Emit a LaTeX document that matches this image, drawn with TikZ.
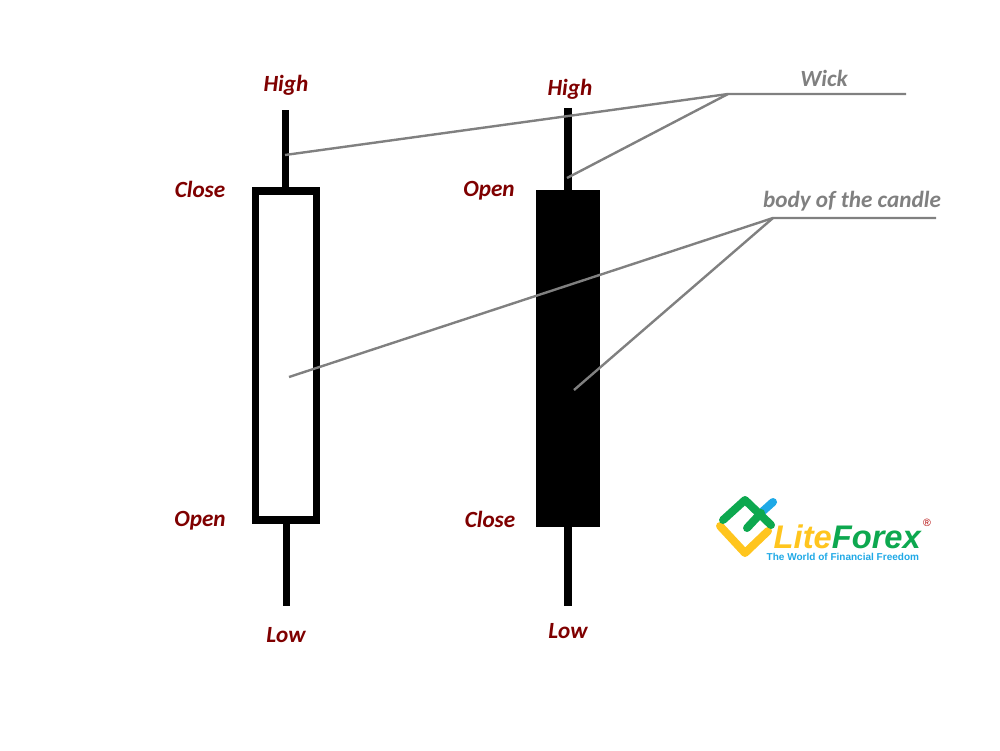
\documentclass[tikz,border=0pt]{standalone}
\usepackage{fontspec}
\setmainfont{Carlito}
\newfontfamily\logofont{Liberation Sans}
\usetikzlibrary{positioning}
\definecolor{labelred}{HTML}{7F0000}
\definecolor{leadgray}{HTML}{808080}
\definecolor{logogreen}{HTML}{0DA84F}
\definecolor{logoyellow}{HTML}{FFC51E}
\definecolor{logoblue}{HTML}{1FA9E6}
\tikzset{
    pricelabel/.style={text=labelred, font=\fontsize{6.6}{7}\selectfont\bfseries\itshape, inner sep=0pt},
    leadlabel/.style={text=leadgray, font=\fontsize{6.6}{7}\selectfont\bfseries\itshape, inner sep=0pt},
    wickline/.style={black, line width=0.075cm},
    leadline/.style={leadgray, line width=0.024cm},
    logoline/.style={line width=0.08cm, line cap=round, line join=round}
}
\begin{document}
\begin{tikzpicture}
        \useasboundingbox (0,0) rectangle (10,7.5);
        % left candle
        \coordinate (lefthigh) at (2.855,6.40);
        \coordinate (lefttop) at (2.855,5.60);
        \coordinate (leftbot) at (2.865,2.27);
        \coordinate (leftlow) at (2.865,1.44);
        \draw[wickline] (lefthigh) -- (lefttop);
        \draw[wickline] (leftbot) -- (leftlow);
        \draw[black, line width=0.075cm] (2.555,2.30) rectangle (3.165,5.59);
        % right candle
        \coordinate (righthigh) at (5.68,6.42);
        \coordinate (righttop) at (5.68,5.60);
        \coordinate (rightbot) at (5.68,2.23);
        \coordinate (rightlow) at (5.68,1.44);
        \draw[wickline] (righthigh) -- (righttop);
        \draw[wickline] (rightbot) -- (rightlow);
        \fill[black] (5.36,2.23) rectangle (6.00,5.60);
        % labels
        \node[pricelabel] (highleft) at (2.86,6.65) {High};
        \node[pricelabel] (closeleft) at (2.00,5.61) {Close};
        \node[pricelabel] (openleft) at (2.00,2.29) {Open};
        \node[pricelabel] (lowleft) at (2.86,1.15) {Low};
        \node[pricelabel] (highright) at (5.70,6.61) {High};
        \node[pricelabel] (openright) at (4.89,5.59) {Open};
        \node[pricelabel] (closeright) at (4.90,2.31) {Close};
        \node[pricelabel] (lowright) at (5.68,1.19) {Low};
        \node[leadlabel] (wicklabel) at (8.24,6.72) {Wick};
        \node[leadlabel] (bodylabel) at (8.52,5.49) {body of the candle};
        % leader lines
        \coordinate (wickknee) at (7.28,6.56);
        \coordinate (wickend) at (9.06,6.56);
        \coordinate (wickleft) at (2.85,5.95);
        \coordinate (wickright) at (5.67,5.72);
        \coordinate (bodyknee) at (7.73,5.32);
        \coordinate (bodyend) at (9.36,5.32);
        \coordinate (bodyleft) at (2.89,3.73);
        \coordinate (bodyright) at (5.74,3.60);
        \draw[leadline] (wickleft) -- (wickknee) -- (wickend);
        \draw[leadline] (wickright) -- (wickknee);
        \draw[leadline] (bodyleft) -- (bodyknee) -- (bodyend);
        \draw[leadline] (bodyright) -- (bodyknee);
        % logo
        \draw[logoline, logoblue] (7.63,2.39) -- (7.73,2.48);
        \draw[logoline, logoyellow] (7.20,2.24) -- (7.45,1.97) -- (7.68,2.19);
        \draw[logoline, logogreen] (7.23,2.30) -- (7.45,2.50) -- (7.71,2.25);
        \draw[logoline, logogreen] (7.47,2.22) -- (7.61,2.37);
        \node[inner sep=0pt, anchor=base west, font=\logofont\fontsize{9.3}{10}\selectfont\bfseries\itshape] (logoname) at (7.73,2.02) {\textcolor{logoyellow}{Lite}\textcolor{logogreen}{Forex}};
        \node[inner sep=0pt, anchor=west, text=logoblue, font=\logofont\fontsize{2.85}{3}\selectfont\bfseries] (logotag) at (7.66,1.93) {The World of Financial Freedom};
        \node[inner sep=0pt, text=red!70!black, font=\logofont\fontsize{3}{3}\selectfont] (logomark) at (9.27,2.27) {\textregistered};
    \end{tikzpicture}
\end{document}
